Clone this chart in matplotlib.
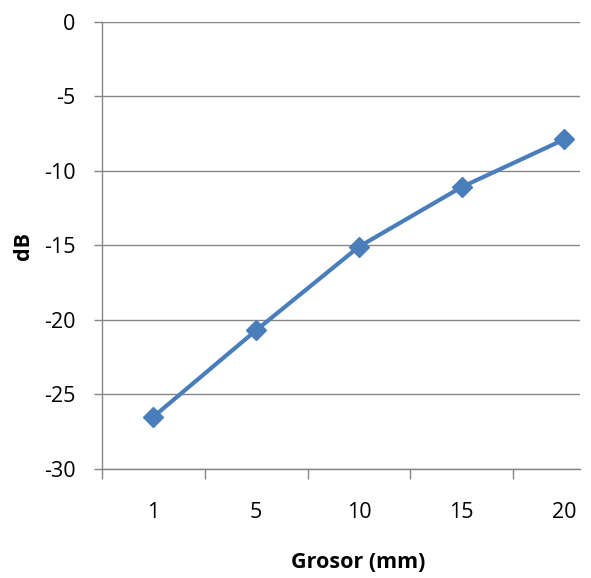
import matplotlib
matplotlib.use("Agg")
import matplotlib.pyplot as plt
import numpy as np

plt.rcParams['font.family'] = ['Open Sans', 'DejaVu Sans']

categories = ["1", "5", "10", "15", "20"]
db_values = [-26.5, -20.7, -15.1, -11.1, -7.9]
y_ticks = [0, -5, -10, -15, -20, -25, -30]

grid_color = "#868686"
line_color = "#4a7ebb"

fig = plt.figure(figsize=(5.91, 5.78), dpi=100)
W, H = 591, 578
ax = fig.add_axes([102 / W, (H - 469) / H, (580 - 102) / W, (469 - 21.5) / H])

x = np.arange(len(categories))
ax.plot(x, db_values, color=line_color, lw=3.0, marker="D", markersize=10,
        markerfacecolor=line_color, markeredgecolor=line_color, zorder=3,
        clip_on=False)

ax.set_ylim(-30, 0)
ax.set_xlim(-0.5, 4.152)
ax.set_yticks(y_ticks)
ax.set_yticklabels([str(v) for v in y_ticks])

ax.set_xticks(x)
ax.set_xticklabels(categories)
ax.set_xticks(np.arange(-0.5, 4.0, 1.0), minor=True)

ax.yaxis.grid(True, color=grid_color, lw=1.0)
ax.set_axisbelow(True)

for s in ["top", "right"]:
    ax.spines[s].set_visible(False)
for s in ["left", "bottom"]:
    ax.spines[s].set_color(grid_color)
    ax.spines[s].set_linewidth(1.0)

ax.tick_params(axis="y", direction="out", length=6, width=1.0, color=grid_color,
               pad=13, labelsize=15.5, labelcolor="#000000")
ax.tick_params(axis="x", which="major", length=0, pad=24, labelsize=15.5,
               labelcolor="#000000")
ax.tick_params(axis="x", which="minor", direction="out", length=7, width=1.0,
               color=grid_color)

fig.text(24 / W, 1 - 246 / H, "dB", rotation=90, ha="center", va="center",
         fontsize=15.5, fontweight="bold")
fig.text(358 / W, 1 - 562 / H, "Grosor (mm)", ha="center", va="center",
         fontsize=15.5, fontweight="bold")

fig.savefig("out.png", dpi=100)
